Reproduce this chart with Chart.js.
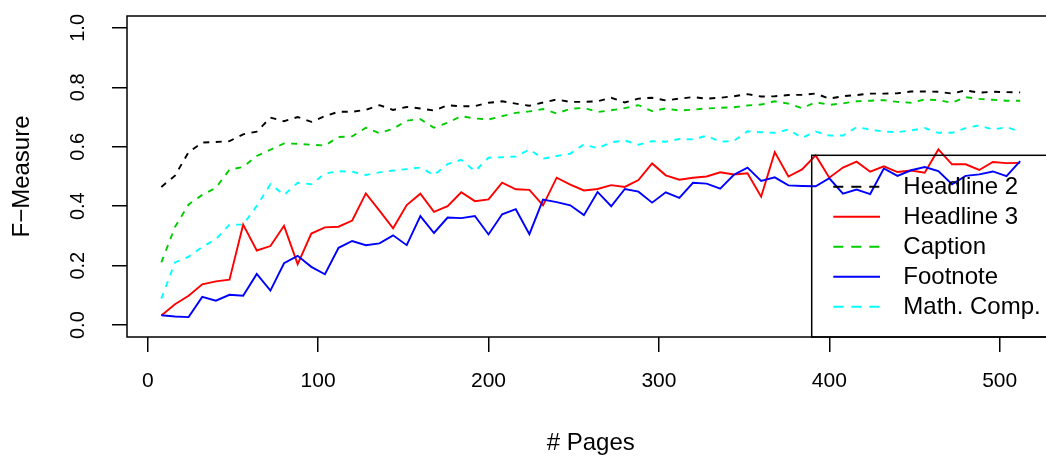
<!DOCTYPE html>
<html>
<head>
<meta charset="utf-8">
<title>F-Measure by number of pages</title>
<script src="https://cdn.jsdelivr.net/npm/chart.js@4.4.1/dist/chart.umd.min.js"></script>
<style>
  html, body { margin: 0; padding: 0; background: #ffffff; overflow: hidden; }
  #wrap { width: 1046px; height: 462px; overflow: hidden; position: relative; }
  canvas { display: block; }
</style>
</head>
<body>
<div id="wrap"><canvas id="c" width="1060" height="462"></canvas></div>
<script>
// Number of training pages (x values)
const pages = [8,16,24,32,40,48,56,64,72,80,88,96,104,112,120,128,136,144,152,160,
  168,176,184,192,200,208,216,224,232,240,248,256,264,272,280,288,296,304,312,320,
  328,336,344,352,360,368,376,384,392,400,408,416,424,432,440,448,456,464,472,480,
  488,496,504,512];

// F-measure per element class
const headline2 = [0.465,0.503,0.582,0.614,0.616,0.619,0.642,0.651,0.698,0.686,
  0.700,0.684,0.703,0.718,0.718,0.724,0.740,0.724,0.734,0.729,
  0.722,0.740,0.736,0.737,0.748,0.753,0.745,0.738,0.749,0.759,
  0.751,0.751,0.753,0.765,0.749,0.762,0.765,0.756,0.762,0.767,
  0.762,0.765,0.770,0.777,0.769,0.770,0.774,0.775,0.779,0.762,
  0.770,0.774,0.779,0.779,0.780,0.786,0.786,0.785,0.779,0.790,
  0.782,0.785,0.784,0.783];

const headline3 = [0.032,0.070,0.099,0.137,0.147,0.153,0.338,0.251,0.266,0.334,
  0.205,0.308,0.329,0.331,0.352,0.443,0.385,0.326,0.404,0.442,
  0.381,0.400,0.447,0.417,0.423,0.479,0.457,0.455,0.403,0.496,
  0.473,0.453,0.458,0.471,0.465,0.488,0.544,0.504,0.489,0.496,
  0.500,0.514,0.507,0.511,0.432,0.582,0.500,0.524,0.571,0.496,
  0.530,0.550,0.516,0.534,0.515,0.520,0.513,0.591,0.541,0.541,
  0.522,0.549,0.545,0.546];

const caption = [0.211,0.330,0.406,0.438,0.462,0.523,0.532,0.569,0.590,0.611,
  0.610,0.607,0.604,0.633,0.635,0.664,0.646,0.660,0.688,0.693,
  0.664,0.681,0.703,0.695,0.692,0.703,0.714,0.719,0.727,0.712,
  0.728,0.731,0.717,0.723,0.730,0.740,0.720,0.729,0.722,0.725,
  0.729,0.731,0.733,0.739,0.742,0.753,0.745,0.730,0.750,0.741,
  0.746,0.753,0.755,0.757,0.751,0.748,0.759,0.757,0.748,0.767,
  0.761,0.758,0.755,0.755];

const footnote = [0.033,0.029,0.027,0.095,0.082,0.102,0.099,0.172,0.116,0.208,
  0.233,0.196,0.171,0.260,0.283,0.269,0.275,0.302,0.269,0.367,
  0.310,0.362,0.360,0.367,0.305,0.373,0.390,0.306,0.422,0.414,
  0.403,0.370,0.448,0.400,0.458,0.449,0.412,0.447,0.428,0.479,
  0.476,0.459,0.506,0.530,0.485,0.497,0.470,0.468,0.467,0.494,
  0.442,0.456,0.441,0.527,0.502,0.521,0.532,0.518,0.474,0.502,
  0.507,0.517,0.501,0.552];

const mathComp = [0.089,0.211,0.230,0.263,0.289,0.338,0.338,0.401,0.474,0.438,
  0.479,0.474,0.510,0.518,0.516,0.505,0.514,0.520,0.525,0.530,
  0.505,0.542,0.556,0.518,0.563,0.565,0.567,0.591,0.560,0.569,
  0.577,0.608,0.595,0.615,0.621,0.607,0.619,0.617,0.626,0.625,
  0.637,0.617,0.620,0.652,0.649,0.647,0.658,0.630,0.651,0.638,
  0.638,0.666,0.658,0.651,0.649,0.655,0.663,0.647,0.647,0.663,
  0.672,0.658,0.666,0.651];

const seriesNames = ["Headline 2", "Headline 3", "Caption", "Footnote", "Math. Comp."];

// Axis ticks
const xTicks = [0, 100, 200, 300, 400, 500];
const yTicks = [0, 0.2, 0.4, 0.6, 0.8, 1.0];

const FONT = "'Liberation Sans', Arial, Helvetica, sans-serif";
const DASH = [6, 6.5];
const LEGEND_DASH = [10, 8];

const styles = [
  { color: "#000000", dash: DASH },
  { color: "#ff0000", dash: [] },
  { color: "#00cd00", dash: DASH },
  { color: "#0000ff", dash: [] },
  { color: "#00ffff", dash: DASH }
];

const values = [headline2, headline3, caption, footnote, mathComp];

const datasets = values.map((vals, k) => ({
  label: seriesNames[k],
  data: pages.map((p, i) => ({ x: p, y: vals[i] })),
  borderColor: styles[k].color,
  borderDash: styles[k].dash,
  borderWidth: 1.9,
  pointRadius: 0,
  fill: false,
  tension: 0,
  // later series are painted over earlier ones
  order: values.length - k
}));

// Plot frame drawn around the chart area
const framePlugin = {
  id: "frame",
  afterDatasetsDraw(chart) {
    const { ctx, chartArea: a } = chart;
    ctx.save();
    ctx.strokeStyle = "#000";
    ctx.lineWidth = 1.5;
    ctx.setLineDash([]);
    ctx.strokeRect(a.left, a.top, a.right - a.left, a.bottom - a.top);
    ctx.restore();
  }
};

// Boxed legend anchored to the bottom-right corner of the plot
const boxLegendPlugin = {
  id: "boxLegend",
  afterDraw(chart) {
    const { ctx, chartArea: a } = chart;
    const box = { left: a.right - 242.8, top: a.bottom - 181.7, right: a.right, bottom: a.bottom };
    ctx.save();
    ctx.strokeStyle = "#000";
    ctx.lineWidth = 1.5;
    ctx.setLineDash([]);
    ctx.strokeRect(box.left, box.top, box.right - box.left, box.bottom - box.top);
    ctx.font = "24px " + FONT;
    ctx.textBaseline = "middle";
    ctx.textAlign = "left";
    chart.data.datasets.forEach((ds, k) => {
      const y = box.top + 31.4 + 30 * k;
      ctx.beginPath();
      ctx.strokeStyle = ds.borderColor;
      ctx.lineWidth = 1.9;
      ctx.setLineDash(ds.borderDash.length ? LEGEND_DASH : []);
      ctx.moveTo(box.left + 21.6, y);
      ctx.lineTo(box.left + 68.3, y);
      ctx.stroke();
      ctx.setLineDash([]);
      ctx.fillStyle = "#000";
      ctx.fillText(ds.label, box.left + 91.6, y + 1);
    });
    ctx.restore();
  }
};

new Chart(document.getElementById("c"), {
  type: "line",
  data: { datasets },
  options: {
    responsive: false,
    devicePixelRatio: 1,
    animation: false,
    events: [],
    layout: { padding: { left: 0, top: 16, right: 5.5, bottom: 0 } },
    plugins: { legend: { display: false }, tooltip: { enabled: false } },
    scales: {
      x: {
        type: "linear",
        min: -12.16,
        max: 532.16,
        afterBuildTicks: (s) => { s.ticks = xTicks.map(v => ({ value: v })); },
        afterFit: (s) => { s.height = 125; s.paddingLeft = 0; s.paddingRight = 0; },
        border: { display: false },
        grid: { drawOnChartArea: false, drawTicks: true, tickLength: 15, color: "#000", lineWidth: 1.5 },
        ticks: {
          color: "#000",
          font: { family: FONT, size: 21 },
          padding: 17,
          maxRotation: 0,
          autoSkip: false,
          callback: (v) => String(v)
        },
        title: {
          display: true,
          text: "# Pages",
          color: "#000",
          font: { family: FONT, size: 24 },
          padding: { top: 0, bottom: 4 }
        }
      },
      y: {
        type: "linear",
        min: -0.04,
        max: 1.04,
        afterBuildTicks: (s) => { s.ticks = yTicks.map(v => ({ value: v })); },
        afterFit: (s) => { s.width = 127; s.paddingTop = 0; s.paddingBottom = 0; },
        border: { display: false },
        grid: { drawOnChartArea: false, drawTicks: true, tickLength: 15, color: "#000", lineWidth: 1.5 },
        ticks: {
          color: "#000",
          font: { family: FONT, size: 20 },
          minRotation: 90,
          maxRotation: 90,
          crossAlign: "center",
          padding: 19.5,
          autoSkip: false,
          callback: (v) => Number(v).toFixed(1)
        },
        title: {
          display: true,
          text: "F\u2212Measure",
          color: "#000",
          font: { family: FONT, size: 24 },
          padding: { top: 8, bottom: 0 }
        }
      }
    }
  },
  plugins: [framePlugin, boxLegendPlugin]
});
</script>
</body>
</html>
